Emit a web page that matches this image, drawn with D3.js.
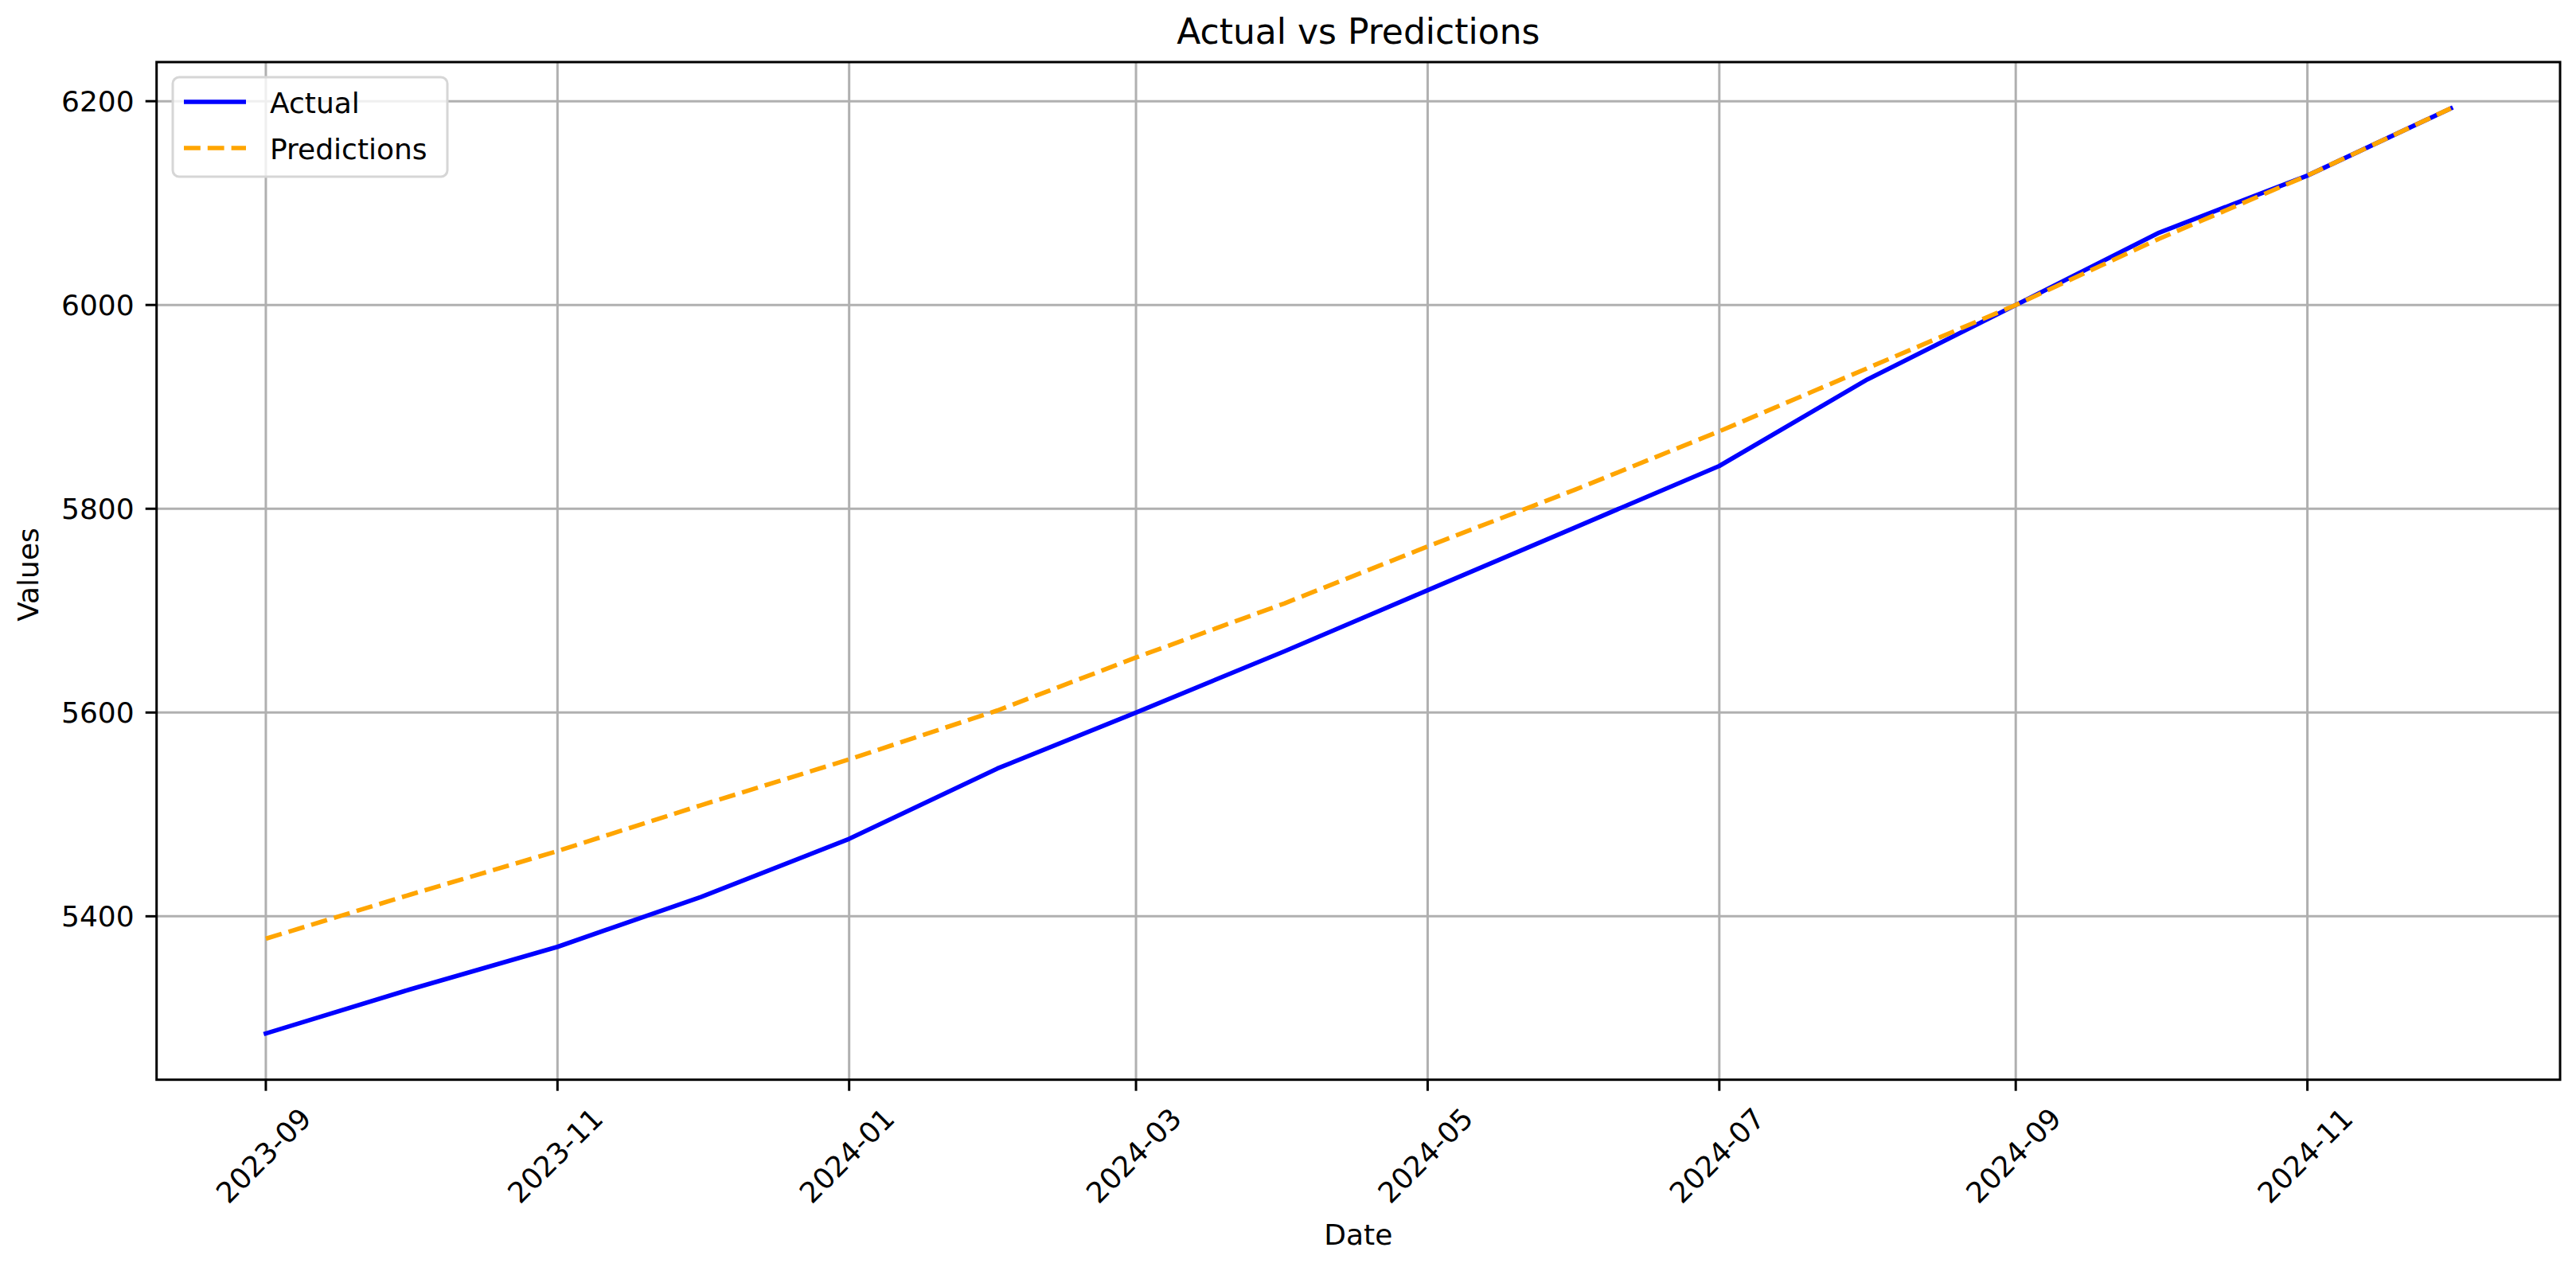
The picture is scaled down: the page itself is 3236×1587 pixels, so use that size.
<!DOCTYPE html>
<html>
<head>
<meta charset="utf-8">
<script src="https://cdn.jsdelivr.net/npm/d3@7"></script>
<style>
  html, body { margin: 0; padding: 0; background: #ffffff; }
  svg { display: block; }
  text { font-family: "DejaVu Sans", sans-serif; fill: #000; }
</style>
</head>
<body>
<svg id="chart" width="3236" height="1587"></svg>
<script>
// ---- data ----
const dates = ["2023-09-01","2023-10-01","2023-11-01","2023-12-01","2024-01-01","2024-02-01",
               "2024-03-01","2024-04-01","2024-05-01","2024-06-01","2024-07-01","2024-08-01",
               "2024-09-01","2024-10-01","2024-11-01","2024-12-01"];
const actual = [5285, 5328, 5370, 5419, 5476, 5545, 5600, 5660, 5720, 5782, 5842, 5927, 6000, 6071, 6127, 6193];
const predictions = [5378, 5421, 5464, 5509, 5554, 5602, 5654, 5707, 5763, 5819, 5876, 5938, 6000, 6065, 6127, 6193];
const xTickDates = ["2023-09-01","2023-11-01","2024-01-01","2024-03-01","2024-05-01","2024-07-01","2024-09-01","2024-11-01"];
const xTickLabels = ["2023-09","2023-11","2024-01","2024-03","2024-05","2024-07","2024-09","2024-11"];
const yTicks = [5400, 5600, 5800, 6000, 6200];
const seriesNames = ["Actual", "Predictions"];
const titleText = "Actual vs Predictions";
const xLabelText = "Date";
const yLabelText = "Values";

// ---- layout ----
const L = 196.7, R = 3216, T = 78, B = 1356.7;
const FS = 36;
const svg = d3.select("#chart");
const parse = d3.utcParse("%Y-%m-%d");
const dts = dates.map(parse);

const xExt = d3.extent(dts);
const xPad = (xExt[1] - xExt[0]) * 0.05;
const x = d3.scaleUtc()
  .domain([new Date(+xExt[0] - xPad), new Date(+xExt[1] + xPad)])
  .range([L, R]);
const allY = actual.concat(predictions);
const yMin = d3.min(allY), yMax = d3.max(allY);
const yPad = (yMax - yMin) * 0.05;
const y = d3.scaleLinear().domain([yMin - yPad, yMax + yPad]).range([B, T]);

// grid
const grid = svg.append("g");
xTickDates.map(parse).forEach(d => {
  grid.append("line").attr("x1", x(d)).attr("x2", x(d)).attr("y1", T).attr("y2", B)
    .attr("stroke", "#b0b0b0").attr("stroke-width", 3);
});
yTicks.forEach(v => {
  grid.append("line").attr("x1", L).attr("x2", R).attr("y1", y(v)).attr("y2", y(v))
    .attr("stroke", "#b0b0b0").attr("stroke-width", 3);
});

// lines
const line = d3.line().x((d, i) => x(dts[i])).y(d => y(d));
svg.append("path").datum(actual).attr("d", line)
  .attr("fill", "none").attr("stroke", "#0000ff").attr("stroke-width", 5.6)
  .attr("stroke-linejoin", "round").attr("stroke-linecap", "square");
svg.append("path").datum(predictions).attr("d", line)
  .attr("fill", "none").attr("stroke", "#ffa500").attr("stroke-width", 5.6)
  .attr("stroke-dasharray", "20.8,9").attr("stroke-linejoin", "round");

// spines
svg.append("rect").attr("x", L).attr("y", T).attr("width", R - L).attr("height", B - T)
  .attr("fill", "none").attr("stroke", "#000").attr("stroke-width", 3);

// y axis ticks & labels
const yAxis = svg.append("g");
yTicks.forEach(v => {
  yAxis.append("line").attr("x1", L - 14).attr("x2", L).attr("y1", y(v)).attr("y2", y(v))
    .attr("stroke", "#000").attr("stroke-width", 3);
  yAxis.append("text").attr("x", L - 28).attr("y", y(v)).attr("dy", "0.36em")
    .attr("text-anchor", "end").attr("font-size", FS).text(d3.format("d")(v));
});

// x axis ticks & labels
const xAxis = svg.append("g");
xTickDates.map(parse).forEach((d, i) => {
  const px = x(d);
  xAxis.append("line").attr("x1", px).attr("x2", px).attr("y1", B).attr("y2", B + 14)
    .attr("stroke", "#000").attr("stroke-width", 3);
  xAxis.append("text")
    .attr("transform", `translate(${px - 3},${B + 95}) rotate(-45)`)
    .attr("text-anchor", "middle").attr("dy", "0.36em")
    .attr("font-size", FS).text(xTickLabels[i]);
});

// axis labels
svg.append("text").attr("x", (L + R) / 2).attr("y", 1564).attr("text-anchor", "middle")
  .attr("font-size", FS).text(xLabelText);
svg.append("text").attr("transform", `translate(48,722) rotate(-90)`)
  .attr("text-anchor", "middle").attr("font-size", FS).text(yLabelText);

// title
svg.append("text").attr("x", (L + R) / 2).attr("y", 55).attr("text-anchor", "middle")
  .attr("font-size", 44).text(titleText);

// legend
const lg = svg.append("g");
lg.append("rect").attr("x", 217).attr("y", 97).attr("width", 345).attr("height", 125)
  .attr("rx", 8).attr("ry", 8)
  .attr("fill", "#ffffff").attr("fill-opacity", 0.8)
  .attr("stroke", "#d6d6d6").attr("stroke-width", 3);
const legItems = [
  { name: seriesNames[0], color: "#0000ff", dash: null, cy: 128, base: 141.5 },
  { name: seriesNames[1], color: "#ffa500", dash: "20.8,9", cy: 186, base: 199.5 }
];
legItems.forEach(it => {
  const l = lg.append("line").attr("x1", 231).attr("x2", 309).attr("y1", it.cy).attr("y2", it.cy)
    .attr("stroke", it.color).attr("stroke-width", 5.6);
  if (it.dash) l.attr("stroke-dasharray", it.dash);
  lg.append("text").attr("x", 339).attr("y", it.base).attr("font-size", FS).text(it.name);
});
</script>
</body>
</html>
